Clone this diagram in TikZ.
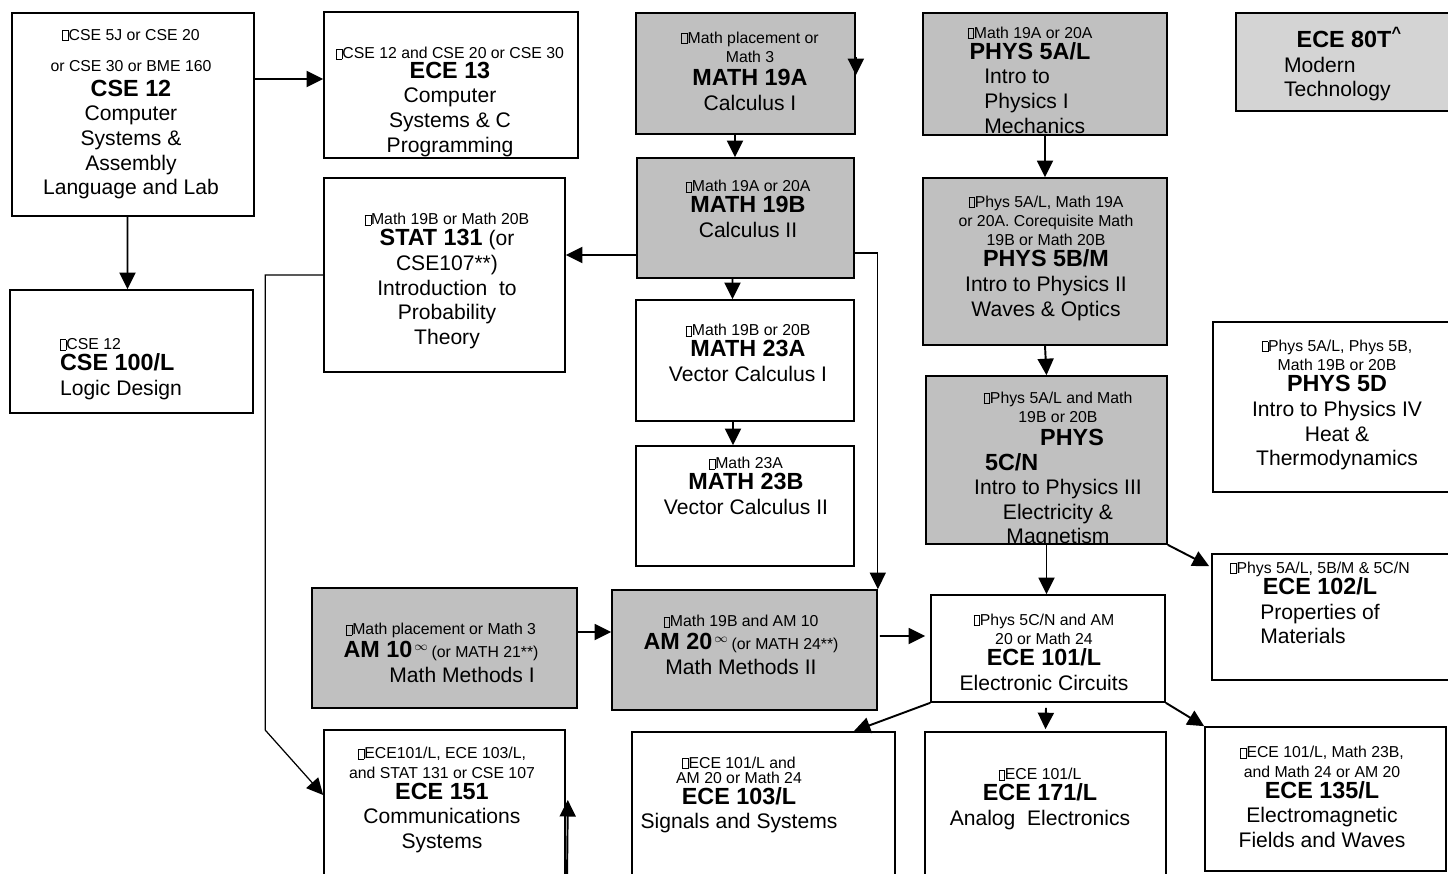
\documentclass[tikz,border=0pt]{standalone}
\usepackage{fontspec}
\setmainfont{Liberation Sans}
\usepackage{tikz}
\usetikzlibrary{arrows.meta,calc,fit,positioning}
\definecolor{boxgray}{RGB}{192,192,192}
\definecolor{palegray}{RGB}{212,212,212}
\newcommand\qbox{{\setlength\fboxsep{0pt}\setlength\fboxrule{0.3pt}\fbox{\rule{0pt}{5.5pt}\rule{3pt}{0pt}}}}
\newcommand\prq[1]{{\fontsize{9}{11}\selectfont #1}}
\newcommand\cname[1]{{\fontsize{13.3}{14}\selectfont\bfseries #1}}
\newcommand\inft{\kern1pt\raisebox{4pt}{\fontsize{7}{7}\selectfont$\infty$}\kern2pt}
\tikzset{
  crs/.style={draw, line width=0.95pt, inner sep=0pt, fill=white},
  grs/.style={crs, fill=boxgray},
  txt/.style={align=center, inner sep=0pt, font=\fontsize{12}{14}\selectfont},
  >={Triangle[length=0.33cm,width=0.32cm]},
  arr/.style={->, line width=1.1pt},
  tarr/.style={->, line width=0.7pt},
}
\begin{document}
\begin{tikzpicture}[x=0.02cm, y=-0.02cm]
\useasboundingbox (0,0) rectangle (1448,873);
\clip (0,0) rectangle (1448,873);

% course boxes
\node[crs, fit={(12,13) (254,216)}] (cse12) {};
\node[crs, fit={(324,12) (578,158)}] (ece13) {};
\node[grs, fit={(636,13) (855,134)}] (math19a) {};
\node[grs, fit={(923,13) (1167,135)}] (phys5a) {};
\node[crs, fill=palegray, fit={(1236,13) (1460,111)}] (ece80t) {};
\node[crs, fit={(324,178) (565,372)}] (stat131) {};
\node[grs, fit={(637,158) (854,278)}] (math19b) {};
\node[grs, fit={(923,178) (1167,345)}] (phys5b) {};
\node[crs, fit={(10,290) (253,413)}] (cse100) {};
\node[crs, fit={(636,300) (854,421)}] (math23a) {};
\node[crs, fit={(1213,322) (1460,492)}] (phys5d) {};
\node[grs, fit={(926,376) (1167,544)}] (phys5c) {};
\node[crs, fit={(636,446) (854,566)}] (math23b) {};
\node[crs, fit={(1212,554) (1460,680)}] (ece102) {};
\node[grs, fit={(312,588) (577,708)}] (am10) {};
\node[grs, fit={(612,590) (877,710)}] (am20) {};
\node[crs, fit={(931,595) (1165,702)}] (ece101) {};
\node[crs, fit={(324,730) (565,900)}] (ece151) {};
\node[crs, fit={(632,732) (895,900)}] (ece103) {};
\node[crs, fit={(925,732) (1166,900)}] (ece171) {};
\node[crs, fit={(1205,727) (1446,871)}] (ece135) {};

% texts
\node[txt] (cse12t) at (131,114) {\prq{\qbox CSE 5J or CSE 20}\\[4pt] \prq{or CSE 30 or BME 160}\\[0pt] \cname{CSE 12}\\ Computer\\ Systems \&\\ Assembly\\ Language and Lab};
\begin{scope}
\clip (ece13.south west) rectangle (ece13.north east);
\node[txt] (ece13t) at (450,102) {\prq{\qbox CSE 12 and CSE 20 or CSE 30}\\[-3pt] \cname{ECE 13}\\ Computer\\ Systems \& C\\ Programming};
\end{scope}
\node[txt] (math19at) at (750,71) {\prq{\qbox Math placement or}\\[-3pt] \prq{Math 3}\\[-1pt] \cname{MATH 19A}\\ Calculus I};
\begin{scope}
\clip (phys5a.south west) rectangle (phys5a.north east);
\node[txt] (phys5at) at (1030,80) {\prq{\qbox Math 19A or 20A}\\[-2pt] \cname{PHYS 5A/L}\\ \makebox[52pt][l]{Intro to}\\ \makebox[52pt][l]{Physics I}\\ \makebox[52pt][l]{Mechanics}};
\end{scope}
\node[txt, align=left] (ece80tt) at (1343,64) {\hspace*{0.6em}\cname{ECE 80T\textsuperscript{\^{}}}\\ Modern\\ Technology};
\node[txt] (stat131t) at (447,281) {\prq{\qbox Math 19B or Math 20B}\\[-2pt] \cname{STAT 131} (or\\ CSE107**)\\ Introduction\ \ to\\ Probability\\ Theory};
\node[txt] (math19bt) at (748,209) {\prq{\qbox Math 19A or 20A}\\[-2pt] \cname{MATH 19B}\\ Calculus II};
\node[txt] (phys5bt) at (1046,258) {\prq{\qbox Phys 5A/L, Math 19A}\\[-3pt] \prq{or 20A. Corequisite Math}\\[-3pt] \prq{19B or Math 20B}\\[-2pt] \cname{PHYS 5B/M}\\ Intro to Physics II\\ Waves \& Optics};
\node[txt, align=left] (cse100t) at (121,369) {\prq{\qbox CSE 12}\\[-2pt] \cname{CSE 100/L}\\ Logic Design};
\node[txt] (math23at) at (748,353) {\prq{\qbox Math 19B or 20B}\\[-2pt] \cname{MATH 23A}\\ Vector Calculus I};
\node[txt] (phys5dt) at (1337,405) {\prq{\qbox Phys 5A/L, Phys 5B,}\\[-3pt] \prq{Math 19B or 20B}\\[-2pt] \cname{PHYS 5D}\\ Intro to Physics IV\\ Heat \&\\ Thermodynamics};
\begin{scope}
\clip (phys5c.south west) rectangle (phys5c.north east);
\node[txt] (phys5ct) at (1058,470) {\prq{\qbox Phys 5A/L and Math}\\[-3pt] \prq{19B or 20B}\\[-1pt] \hspace*{16pt}\cname{PHYS}\\ \makebox[83pt][l]{\cname{5C/N}}\\ Intro to Physics III\\ Electricity \&\\ Magnetism};
\end{scope}
\node[txt] (math23bt) at (746,486) {\prq{\qbox Math 23A}\\[-2pt] \cname{MATH 23B}\\ Vector Calculus II};
\node[txt] (ece102t) at (1320,603) {\prq{\qbox Phys 5A/L, 5B/M \& 5C/N}\\[-2pt] \cname{ECE 102/L}\\ \makebox[68pt][l]{Properties of}\\ \makebox[68pt][l]{Materials}};
\node[txt] (am10t) at (441,653) {\prq{\qbox Math placement or Math 3}\\[-1pt] \cname{AM 10}\inft\prq{(or MATH 21**)}\\ \hspace*{2em}Math Methods I};
\node[txt] (am20t) at (741,645) {\prq{\qbox Math 19B and AM 10}\\[-1pt] \cname{AM 20}\inft\prq{(or MATH 24**)}\\ Math Methods II};
\node[txt] (ece101t) at (1044,652) {\prq{\qbox Phys 5C/N and AM}\\[-3pt] \prq{20 or Math 24}\\[-2pt] \cname{ECE 101/L}\\ Electronic Circuits};
\node[txt] (ece151t) at (442,800) {\prq{\qbox ECE101/L, ECE 103/L,}\\[-3pt] \prq{and STAT 131 or CSE 107}\\[-2pt] \cname{ECE 151}\\ Communications\\ Systems};
\node[txt] (ece103t) at (739,795) {\prq{\qbox ECE 101/L and}\\[-5.5pt] \prq{AM 20 or Math 24}\\[-2pt] \cname{ECE 103/L}\\ Signals and Systems};
\node[txt] (ece171t) at (1040,799) {\prq{\qbox ECE 101/L}\\[-2pt] \cname{ECE 171/L}\\ Analog\ \ Electronics};
\node[txt] (ece135t) at (1322,797) {\prq{\qbox ECE 101/L, Math 23B,}\\[-3pt] \prq{and Math 24 or AM 20}\\[-2pt] \cname{ECE 135/L}\\ Electromagnetic\\ Fields and Waves};

% prerequisite arrows
\draw[arr] ($(cse12.east)+(0,-35.5)$) -- ($(ece13.west)+(0,-6)$);
\draw[arr] ($(cse12.south)+(-5.5,0)$) -- ($(cse100.north)+(-4,0)$);
\draw[arr] ($(math19a.south)+(-10.5,0)$) -- ($(math19b.north)+(-10.5,0)$);
\draw[arr] ($(math19a.north east)+(0,45)$) -- ($(math19a.north east)+(0,63)$);
\draw[arr] ($(math19b.west)+(0,37)$) -- ($(stat131.east)+(0,-20)$);
\draw[arr] ($(math19b.south)+(-13,0)$) -- ($(math23a.north)+(-12.5,0)$);
\draw[arr] ($(math23a.south)+(-12,0)$) -- ($(math23b.north)+(-12,0)$);
\draw[tarr] ($(math19b.east)+(0,35)$) -| (am20.north east);
\draw[arr] (phys5a.south) -- (phys5b.north);
\draw[arr] (phys5b.south) -- (phys5c.north);
\draw[arr] (phys5c.south) -- (phys5c.south |- ece101.north);
\draw[arr] (phys5c.south east) -- ($(ece102.north west)+(-2,13)$);
\draw[arr] ($(am10.east)+(0,-16)$) -- ($(am20.west)+(0,-18)$);
\draw[arr] ($(am20.east)+(2,-14)$) -- ($(ece101.west)+(-5,-12.5)$);
\draw[arr] (ece101.south west) -- ($(ece103.north east)+(-42,0)$);
\draw[arr] ($(ece101.south)+(-2,5)$) -- ($(ece171.north)+(0,-2)$);
\draw[arr] (ece101.south east) -- (ece135.north west);
\draw[tarr] (stat131.west) -- ++(-58,0) -- ++(0,455) -- ($(ece151.west)+(0,-20)$);
\coordinate (fromb) at (567,880);
\draw[arr] (fromb) -- ($(ece151.east)+(2,-15)$);
\end{tikzpicture}
\end{document}
